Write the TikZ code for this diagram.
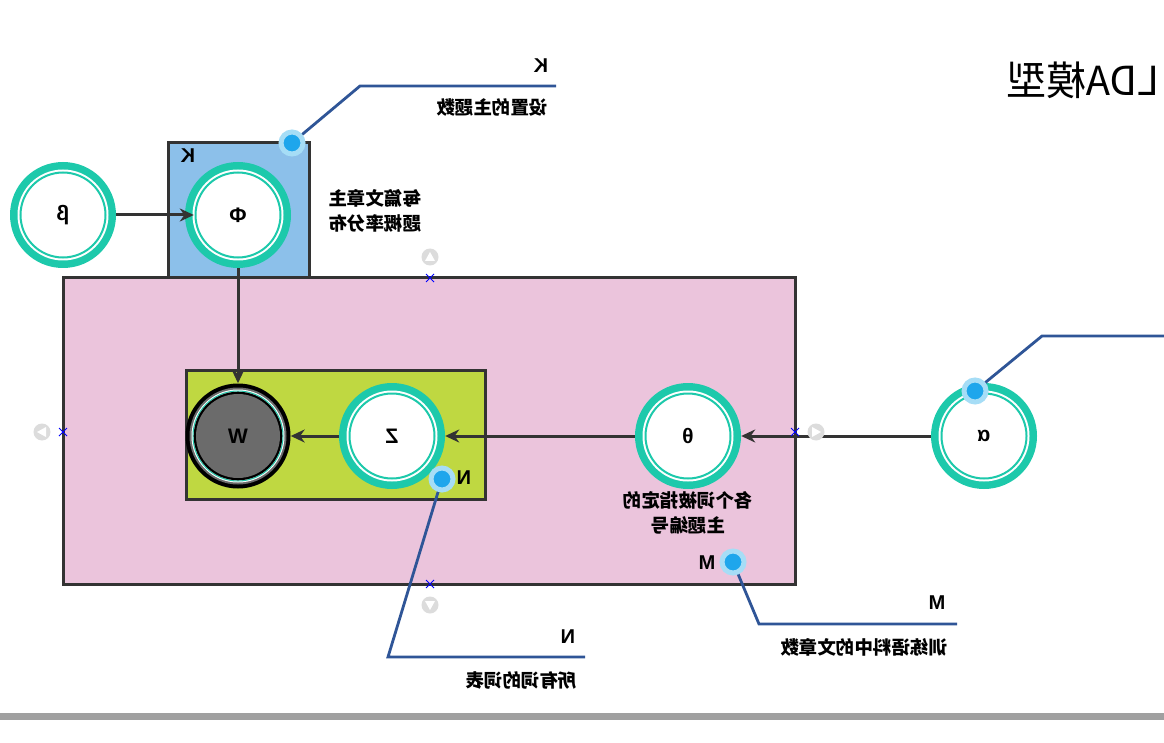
\documentclass[tikz,border=0pt]{standalone}
\usepackage{fontspec}
\usepackage{graphicx}
\setmainfont{Liberation Sans}
\newfontfamily\cjk{Noto Sans CJK SC}
\usetikzlibrary{arrows.meta}
\definecolor{ringteal}{HTML}{1DC9AB}
\definecolor{pinkbg}{HTML}{EBC4DC}
\definecolor{greenbg}{HTML}{BFD841}
\definecolor{bluebg}{HTML}{8CC0EA}
\definecolor{dk}{HTML}{333333}
\definecolor{callout}{HTML}{2F5597}
\definecolor{dotblue}{HTML}{1EA6EC}
\definecolor{halo}{HTML}{A6DDF6}
\definecolor{wgray}{HTML}{6B6B6B}
\definecolor{hgray}{HTML}{DCDCDC}
\definecolor{bargray}{HTML}{A0A0A0}
\begin{document}
\begin{tikzpicture}[x=1pt,y=-1pt,
  lat/.style={font=\fontsize{20}{22}\selectfont\bfseries, inner sep=0pt},
  cj/.style={font=\cjk\fontsize{18.5}{25}\selectfont\bfseries, inner sep=0pt},
  ringnode/.style={circle, minimum size=106pt, inner sep=0pt, fill=ringteal,
    font=\fontsize{21}{22}\selectfont\bfseries,
    path picture={\fill[white] (path picture bounding box.center) circle (45.5pt);
      \draw[ringteal, line width=2pt] (path picture bounding box.center) circle (42.5pt);}},
  wnode/.style={circle, minimum size=105pt, inner sep=0pt, fill=black,
    font=\fontsize{21}{22}\selectfont\bfseries,
    path picture={\fill[wgray] (path picture bounding box.center) circle (48.5pt);
      \fill[white] (path picture bounding box.center) circle (46.5pt);
      \draw[ringteal, line width=1pt] (path picture bounding box.center) circle (45pt);
      \fill[black] (path picture bounding box.center) circle (44.3pt);
      \fill[wgray] (path picture bounding box.center) circle (42pt);}},
  conn/.style={draw=dk, line width=3pt, -{Stealth[length=14pt,width=13pt]}},
  plate/.style={draw=dk, line width=3pt},
  cline/.style={draw=callout, line width=2.8pt},
  dotn/.style={circle, fill=dotblue, draw=halo, line width=5pt, minimum size=22pt, inner sep=0pt},
  handle/.style={circle, fill=hgray, minimum size=17pt, inner sep=0pt},
  xmark/.style={draw=blue, line width=0.8pt}
]
\useasboundingbox (0,0) rectangle (1164,743);
\fill[white] (0,0) rectangle (1164,743);

% plates
\draw[plate, fill=pinkbg] (63,278) rectangle (795,584);
\draw[plate, fill=greenbg] (186,370) rectangle (485,499);
\draw[plate, fill=bluebg] (168,143) rectangle (309,278);

% title
\node[font=\cjk\fontsize{40}{44}\selectfont, inner sep=0pt] (title) at (1083,80) {\reflectbox{LDA模型}};

% nodes
\node[ringnode] (beta) at (63,215) {\reflectbox{β}};
\node[ringnode] (phi) at (238,215) {\reflectbox{Φ}};
\node[wnode] (w) at (238,436) {\reflectbox{W}};
\node[ringnode] (z) at (392,436) {\reflectbox{Z}};
\node[ringnode] (theta) at (688,436) {\reflectbox{θ}};
\node[ringnode] (alpha) at (984,436) {\reflectbox{α}};

% labels
\node[lat] (kin) at (188,156) {\reflectbox{K}};
\node[lat] (nin) at (464,478) {\reflectbox{N}};
\node[lat] (min) at (707,563) {\reflectbox{M}};
\node[cj] (phitxt) at (375,213) {\reflectbox{\begin{tabular}{@{}c@{}}每篇文章主\\题概率分布\end{tabular}}};
\node[cj] (thetatxt) at (688,515) {\reflectbox{\begin{tabular}{@{}c@{}}各个词被指定的\\主题编号\end{tabular}}};

% connectors
\draw[conn, shorten >=-9pt] (beta) -- (phi);
\draw[conn] (phi) -- (w);
\draw[conn] (z) -- (w);
\draw[conn] (theta) -- (z);
\draw[conn] (alpha) -- (theta);

% callouts
\coordinate (cK) at (292,143);
\coordinate (kc1) at (360,86);
\coordinate (kc2) at (556,86);
\draw[cline] (cK) -- (kc1) -- (kc2);
\node[lat] (klab) at (541,66) {\reflectbox{K}};
\node[cj] (ktxt) at (492,107) {\reflectbox{设置的主题数}};

\coordinate (cN) at (442,479);
\coordinate (nc1) at (388,657);
\coordinate (nc2) at (585,657);
\draw[cline] (cN) -- (nc1) -- (nc2);
\node[lat] (nlab) at (568,637) {\reflectbox{N}};
\node[cj] (ntxt) at (521,681) {\reflectbox{所有词的词表}};

\coordinate (cM) at (733,562);
\coordinate (mc1) at (759,624);
\coordinate (mc2) at (957,624);
\draw[cline] (cM) -- (mc1) -- (mc2);
\node[lat] (mlab) at (937,603) {\reflectbox{M}};
\node[cj] (mtxt) at (864,647) {\reflectbox{训练语料中的文章数}};

\coordinate (cA) at (975,391);
\coordinate (ac1) at (1042,336);
\coordinate (ac2) at (1164,336);
\draw[cline] (cA) -- (ac1) -- (ac2);

\node[dotn] (dK) at (cK) {};
\node[dotn] (dN) at (cN) {};
\node[dotn] (dM) at (cM) {};
\node[dotn] (dA) at (cA) {};

% editor handles
\node[handle] (hT) at (430,257) {};
\fill[white] (425,261) -- (435,261) -- (430,252) -- cycle;
\node[handle] (hB) at (430,605) {};
\fill[white] (425,601) -- (435,601) -- (430,610) -- cycle;
\node[handle] (hL) at (42,432) {};
\fill[white] (46,427) -- (46,437) -- (37,432) -- cycle;
\node[handle] (hR) at (816,432) {};
\fill[white] (812,427) -- (812,437) -- (821,432) -- cycle;
\foreach \p in {(430,278),(63,432),(795,432),(430,584)}{
  \draw[xmark] \p ++(-4,-4) -- ++(8,8) \p ++(-4,4) -- ++(8,-8);
}

% bottom bar
\fill[bargray] (0,713) rectangle (1164,720);
\end{tikzpicture}
\end{document}
